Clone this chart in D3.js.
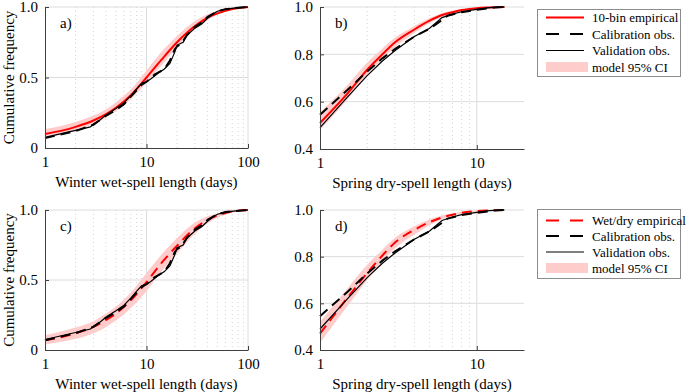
<!DOCTYPE html>
<html>
<head>
<meta charset="utf-8">
<script src="https://cdn.jsdelivr.net/npm/d3@7"></script>
<style>
  body { margin: 0; background: #fff; }
  svg text { font-family: "Liberation Serif", "Times New Roman", Times, "DejaVu Serif", serif; fill: #000; }
</style>
</head>
<body>
<svg id="chart" width="689" height="392"></svg>
<script>
// ---- winter wet spells (panels a, c) ----
var wetModelX = [1, 1.5, 2, 3, 4, 5, 7, 10, 14, 20, 30, 40, 50, 70, 100];
var wetBinModel = [0.10, 0.125, 0.15, 0.195, 0.24, 0.285, 0.375, 0.50, 0.625, 0.75, 0.865, 0.925, 0.955, 0.985, 1.0];
var wetBinCiLow = [0.08, 0.10, 0.125, 0.17, 0.215, 0.26, 0.345, 0.465, 0.585, 0.715, 0.84, 0.91, 0.945, 0.98, 0.998];
var wetBinCiHigh = [0.135, 0.16, 0.185, 0.23, 0.275, 0.325, 0.415, 0.55, 0.68, 0.795, 0.9, 0.948, 0.972, 0.993, 1.0];
var wetWdModel = [0.07, 0.095, 0.12, 0.165, 0.215, 0.26, 0.355, 0.485, 0.62, 0.745, 0.87, 0.93, 0.96, 0.99, 1.0];
var wetWdCiLow = [0.04, 0.06, 0.08, 0.12, 0.165, 0.21, 0.30, 0.42, 0.56, 0.69, 0.83, 0.905, 0.945, 0.982, 0.998];
var wetWdCiHigh = [0.105, 0.135, 0.16, 0.205, 0.26, 0.31, 0.41, 0.55, 0.68, 0.80, 0.91, 0.955, 0.975, 0.995, 1.0];

var wetCalX = [1, 2, 3, 4, 5, 6, 8, 9, 10, 12, 15, 17, 19, 20, 22, 25, 30, 35, 40, 50, 60, 80, 100];
var wetCal = [0.07, 0.12, 0.165, 0.23, 0.27, 0.31, 0.41, 0.45, 0.47, 0.52, 0.56, 0.62, 0.70, 0.72, 0.74, 0.80, 0.86, 0.89, 0.93, 0.97, 0.985, 0.995, 1.0];
var wetValX = [1, 2, 2.8, 3, 3.5, 4, 5, 6, 7, 8, 9, 10, 11, 13, 15, 17, 19, 20, 23, 25, 30, 35, 40, 45, 50, 60, 80, 100];
var wetVal = [0.075, 0.125, 0.15, 0.17, 0.20, 0.235, 0.28, 0.32, 0.37, 0.42, 0.46, 0.47, 0.49, 0.53, 0.56, 0.60, 0.68, 0.73, 0.75, 0.80, 0.85, 0.88, 0.92, 0.95, 0.97, 0.985, 0.995, 1.0];

// ---- spring dry spells (panels b, d) ----
var dryModelX = [1, 1.5, 2, 2.5, 3, 4, 5, 6, 7, 8, 10, 12, 15];
var dryBinModel = [0.51, 0.635, 0.735, 0.80, 0.85, 0.905, 0.942, 0.966, 0.978, 0.987, 0.995, 0.998, 1.0];
var dryBinCiLow = [0.48, 0.61, 0.715, 0.78, 0.83, 0.89, 0.932, 0.958, 0.973, 0.983, 0.993, 0.997, 0.999];
var dryBinCiHigh = [0.555, 0.67, 0.765, 0.825, 0.87, 0.92, 0.953, 0.974, 0.985, 0.991, 0.997, 0.999, 1.0];
var dryWdModel = [0.47, 0.625, 0.73, 0.805, 0.86, 0.915, 0.948, 0.968, 0.98, 0.988, 0.995, 0.998, 1.0];
var dryWdCiLow = [0.43, 0.59, 0.70, 0.78, 0.835, 0.895, 0.935, 0.96, 0.975, 0.984, 0.993, 0.997, 0.999];
var dryWdCiHigh = [0.52, 0.665, 0.765, 0.83, 0.88, 0.93, 0.96, 0.976, 0.986, 0.992, 0.997, 0.999, 1.0];

var dryCalX = [1, 1.5, 2, 2.5, 3, 4, 5, 6, 6.5, 8, 10, 13, 15];
var dryCal = [0.545, 0.65, 0.728, 0.783, 0.822, 0.875, 0.908, 0.945, 0.963, 0.978, 0.988, 0.998, 1.0];
var dryValX = [1, 1.5, 2, 2.5, 3, 4, 5, 6, 7, 8, 10, 12, 15];
var dryVal = [0.49, 0.62, 0.71, 0.772, 0.815, 0.875, 0.91, 0.955, 0.97, 0.98, 0.99, 0.997, 1.0];

// ---- axes / labels ----
var wetTicks = [1, 10, 100];
var wetMinor = [2, 3, 4, 5, 6, 7, 8, 9, 20, 30, 40, 50, 60, 70, 80, 90];
var wetYTicks = [0, 0.5, 1.0];
var dryTicks = [1, 10];
var dryMinor = [2, 3, 4, 5, 6, 7, 8, 9];
var dryYTicks = [0.4, 0.6, 0.8, 1.0];
var topLegend = ["10-bin empirical", "Calibration obs.", "Validation obs.", "model 95% CI"];
var bottomLegend = ["Wet/dry empirical", "Calibration obs.", "Validation obs.", "model 95% CI"];

var svg = d3.select("#chart");
var serif = "'Liberation Serif', 'Times New Roman', Times, 'DejaVu Serif', serif";
var gridColor = "#dcdcdc";
var axisColor = "#404040";

function pts(xs, ys) {
  var out = [];
  for (var i = 0; i < xs.length; i++) out.push({x: xs[i], y: ys[i]});
  return out;
}

function drawPanel(p)
{
  var x = d3.scaleLog().domain(p.xDomain).range([p.left, p.right]);
  var y = d3.scaleLinear().domain(p.yDomain).range([p.bottom, p.top]);
  var g = svg.append("g");

  // minor grid (dotted)
  g.selectAll(".minor").data(p.minor).enter().append("line")
    .attr("x1", function(d) { return x(d); }).attr("x2", function(d) { return x(d); })
    .attr("y1", p.top).attr("y2", p.bottom)
    .attr("stroke", "#c8c8c8").attr("stroke-width", 0.8)
    .attr("stroke-dasharray", "1,3");
  // major grid
  g.selectAll(".xmaj").data(p.xTicks.slice(1)).enter().append("line")
    .attr("x1", function(d) { return x(d); }).attr("x2", function(d) { return x(d); })
    .attr("y1", p.top).attr("y2", p.bottom)
    .attr("stroke", gridColor).attr("stroke-width", 1);
  g.selectAll(".ymaj").data(p.yTicks.slice(1)).enter().append("line")
    .attr("x1", p.left).attr("x2", p.right)
    .attr("y1", function(d) { return y(d); }).attr("y2", function(d) { return y(d); })
    .attr("stroke", gridColor).attr("stroke-width", 1);

  // CI band
  var band = pts(p.modelX, p.ciLow).map(function(d, i) { return {x: d.x, lo: d.y, hi: p.ciHigh[i]}; });
  g.append("path").datum(band)
    .attr("fill", "#ffcccc")
    .attr("d", d3.area()
      .x(function(d) { return x(d.x); })
      .y0(function(d) { return y(d.lo); })
      .y1(function(d) { return y(d.hi); })
      .curve(d3.curveMonotoneX));

  var smooth = d3.line().x(function(d) { return x(d.x); }).y(function(d) { return y(d.y); })
    .curve(d3.curveMonotoneX);
  var plain = d3.line().x(function(d) { return x(d.x); }).y(function(d) { return y(d.y); });

  // model line
  g.append("path").datum(pts(p.modelX, p.model))
    .attr("fill", "none").attr("stroke", "#f00").attr("stroke-width", 2)
    .attr("stroke-dasharray", p.modelDashed ? "10,6" : null)
    .attr("d", smooth);
  // calibration obs
  g.append("path").datum(pts(p.calX, p.cal))
    .attr("fill", "none").attr("stroke", "#000").attr("stroke-width", 2)
    .attr("stroke-dasharray", "10,6")
    .attr("d", plain);
  // validation obs
  g.append("path").datum(pts(p.valX, p.val))
    .attr("fill", "none").attr("stroke", "#000").attr("stroke-width", 1.2)
    .attr("d", plain);

  // axes
  var xAxis = g.append("g")
    .attr("transform", "translate(0," + p.bottom + ")")
    .call(d3.axisBottom(x).tickValues(p.xTicks).tickFormat(d3.format("d"))
      .tickSizeInner(-4).tickSizeOuter(0).tickPadding(8));
  var yAxis = g.append("g")
    .attr("transform", "translate(" + p.left + ",0)")
    .call(d3.axisLeft(y).tickValues(p.yTicks)
      .tickFormat(function(d) { return d === 0 ? "0" : d3.format(".1f")(d); })
      .tickSizeInner(-4).tickSizeOuter(0).tickPadding(7));
  [xAxis, yAxis].forEach(function(a) {
    a.attr("font-family", serif).attr("font-size", 15);
    a.select(".domain").attr("stroke", axisColor);
    a.selectAll(".tick line").attr("stroke", axisColor);
    a.selectAll("text").attr("fill", "#000");
  });

  // panel letter
  g.append("text").attr("x", p.left + 15).attr("y", p.top + 21)
    .attr("font-family", serif).attr("font-size", 15).text(p.label);

  // axis titles
  g.append("text")
    .attr("x", (p.left + p.right) / 2).attr("y", p.bottom + 39)
    .attr("text-anchor", "middle").attr("font-family", serif).attr("font-size", 15)
    .text(p.xTitle);
  if (p.yTitle) {
    g.append("text")
      .attr("transform", "translate(14," + ((p.top + p.bottom) / 2) + ") rotate(-90)")
      .attr("text-anchor", "middle").attr("font-family", serif).attr("font-size", 15)
      .text(p.yTitle);
  }
}

function drawLegend(top, labels, dashedFirst, rows)
{
  var g = svg.append("g");
  g.append("rect").attr("x", 537.5).attr("y", top + 0.5).attr("width", 143).attr("height", rows[4])
    .attr("fill", "#fff").attr("stroke", "#8c8c8c").attr("stroke-width", 1);
  var styles = [
    {stroke: "#f00", w: 2, dash: dashedFirst ? "13,11" : null},
    {stroke: "#000", w: 2, dash: "13,11"},
    {stroke: "#000", w: 1.2, dash: null},
    {fill: true}
  ];
  labels.forEach(function(t, i) {
    var cy = top + rows[i];
    var s = styles[i];
    if (s.fill) {
      g.append("rect").attr("x", 546).attr("y", cy - 5).attr("width", 42).attr("height", 10)
        .attr("fill", "#ffcccc");
    } else {
      g.append("line").attr("x1", 546).attr("x2", 584).attr("y1", cy).attr("y2", cy)
        .attr("stroke", s.stroke).attr("stroke-width", s.w)
        .attr("stroke-dasharray", s.dash);
    }
    g.append("text").attr("x", 592).attr("y", cy + 4.5)
      .attr("font-family", serif).attr("font-size", 13).text(t);
  });
}

drawPanel({left: 45, right: 248, top: 7, bottom: 148, xDomain: [1, 100], xTicks: wetTicks, minor: wetMinor,
  yDomain: [0, 1], yTicks: wetYTicks, label: "a)",
  modelX: wetModelX, model: wetBinModel, ciLow: wetBinCiLow, ciHigh: wetBinCiHigh, modelDashed: false,
  calX: wetCalX, cal: wetCal, valX: wetValX, val: wetVal,
  xTitle: "Winter wet-spell length (days)", yTitle: "Cumulative frequency"});

drawPanel({left: 320, right: 524, top: 7, bottom: 149, xDomain: [1, 20], xTicks: dryTicks, minor: dryMinor,
  yDomain: [0.4, 1], yTicks: dryYTicks, label: "b)",
  modelX: dryModelX, model: dryBinModel, ciLow: dryBinCiLow, ciHigh: dryBinCiHigh, modelDashed: false,
  calX: dryCalX, cal: dryCal, valX: dryValX, val: dryVal,
  xTitle: "Spring dry-spell length (days)", yTitle: null});

drawPanel({left: 45, right: 248, top: 210, bottom: 350, xDomain: [1, 100], xTicks: wetTicks, minor: wetMinor,
  yDomain: [0, 1], yTicks: wetYTicks, label: "c)",
  modelX: wetModelX, model: wetWdModel, ciLow: wetWdCiLow, ciHigh: wetWdCiHigh, modelDashed: true,
  calX: wetCalX, cal: wetCal, valX: wetValX, val: wetVal,
  xTitle: "Winter wet-spell length (days)", yTitle: "Cumulative frequency"});

drawPanel({left: 320, right: 524, top: 210, bottom: 350, xDomain: [1, 20], xTicks: dryTicks, minor: dryMinor,
  yDomain: [0.4, 1], yTicks: dryYTicks, label: "d)",
  modelX: dryModelX, model: dryWdModel, ciLow: dryWdCiLow, ciHigh: dryWdCiHigh, modelDashed: true,
  calX: dryCalX, cal: dryCal, valX: dryValX, val: dryVal,
  xTitle: "Spring dry-spell length (days)", yTitle: null});

drawLegend(9, topLegend, false, [8.5, 25, 41.5, 58, 67]);
drawLegend(209, bottomLegend, true, [11.5, 27, 43, 59, 69]);
</script>
</body>
</html>
